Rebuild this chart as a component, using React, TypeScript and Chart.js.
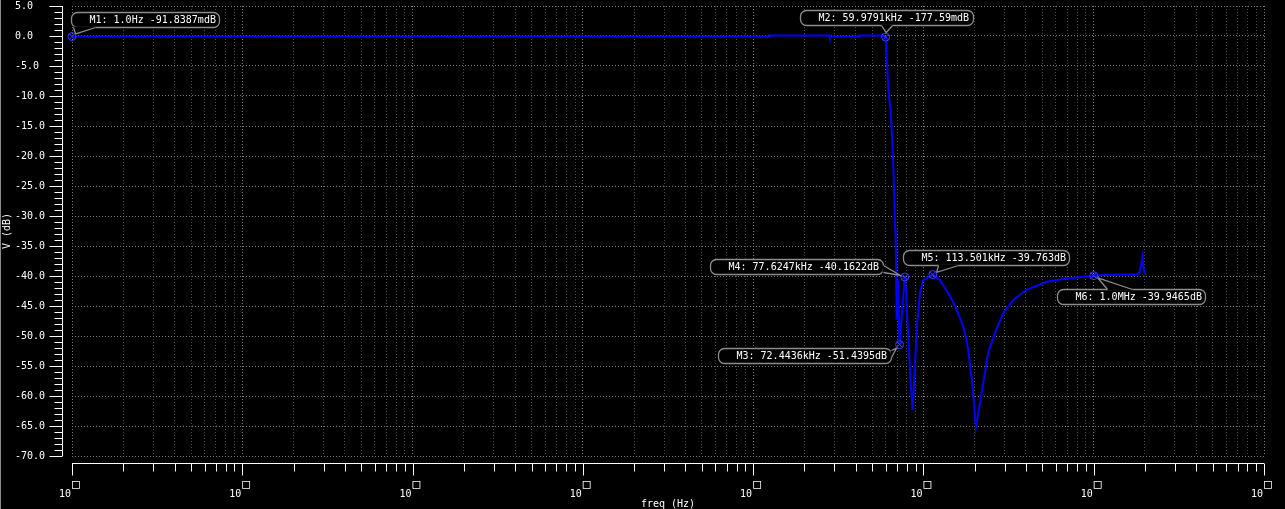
import React, { useEffect, useRef } from "react";
import { Chart, registerables } from "chart.js";

Chart.register(...registerables);

// ---------- data ----------
const freqHz = [
  1, 12500, 12560, 28000, 28100, 42000, 42300, 57500, 59979,
  60800, 62100, 64200, 65100, 65900, 66500, 67400, 68300, 68700,
  69660, 70900, 72444, 77625, 78900, 81100, 83900, 86400, 91600,
  95400, 99800, 113501, 125000, 139300, 148000, 156700, 164000, 171300, 177500, 183300, 194500,
  203400, 219700, 240200, 263000, 294100, 336800, 403600, 529000, 693000,
  1000000, 1190000, 1425000, 1786000, 1850000, 1911000, 1937000, 1959000,
  1985000, 2000000,
];
const gainDb = [
  -0.092, -0.09, 0.08, 0.08, -0.09, -0.09, 0.08, 0.08, -0.178,
  -3.2, -8.7, -12.8, -15.7, -18.5, -21.5, -26.8, -32.3, -33.2,
  -47.3, -40.7, -51.44, -40.16, -42.3, -49.0, -57.3, -62.3, -48.5,
  -42.8, -40.7, -39.76, -40.7, -42.8, -44.1, -45.7, -47.0, -48.5, -50.2, -52.3, -58.5,
  -65.2, -59.5, -52.8, -49.5, -46.2, -44.0, -42.3, -40.95, -40.4,
  -39.95, -39.8, -39.75, -39.7, -39.55, -37.7, -36.8, -38.7,
  -39.5, -39.6,
];

const yMin = -70;
const yMax = 5;
const yStep = 5;
const decadeExponents = [0, 1, 2, 3, 4, 5, 6, 7];

const markerFreqHz = [1, 59979.1, 72443.6, 77624.7, 113501, 1000000];
const markerDb = [-0.0918387, -0.17759, -51.4395, -40.1622, -39.763, -39.9465];
const markerText = [
  "M1: 1.0Hz -91.8387mdB",
  "M2: 59.9791kHz -177.59mdB",
  "M3: 72.4436kHz -51.4395dB",
  "M4: 77.6247kHz -40.1622dB",
  "M5: 113.501kHz -39.763dB",
  "M6: 1.0MHz -39.9465dB",
];

const xTitle = "freq (Hz)";
const yTitle = "V (dB)";

// ---------- styles / layout ----------
const FONT = '10px "DejaVu Sans Mono", monospace';
const markerLayout = [
  { dx: -1, dy: -24.5, edge: "bottom", t0: 2, t1: 24 },
  { dx: -86, dy: -27, edge: "bottom", t0: 81, t1: 92 },
  { dx: -182, dy: 3.5, edge: "right", t0: 2, t1: 9 },
  { dx: -195, dy: -18, edge: "right", t0: 6, t1: 13 },
  { dx: -30, dy: -25, edge: "bottom", t0: 35, t1: 55 },
  { dx: -37, dy: 13, edge: "top", t0: 50, t1: 75 },
];

const gridTicks: number[] = [];
for (let e = 0; e < 7; e++) {
  for (let m = 1; m <= 9; m++) gridTicks.push(m * Math.pow(10, e));
}
gridTicks.push(1e7);

const isDecade = (v: number) =>
  v > 0 && Math.abs(Math.log10(v) - Math.round(Math.log10(v))) < 1e-9;

function roundRectPath(ctx: CanvasRenderingContext2D, x: number, y: number, w: number, h: number, r: number) {
  ctx.beginPath();
  ctx.moveTo(x + r, y);
  ctx.lineTo(x + w - r, y);
  ctx.arcTo(x + w, y, x + w, y + r, r);
  ctx.lineTo(x + w, y + h - r);
  ctx.arcTo(x + w, y + h, x + w - r, y + h, r);
  ctx.lineTo(x + r, y + h);
  ctx.arcTo(x, y + h, x, y + h - r, r);
  ctx.lineTo(x, y + r);
  ctx.arcTo(x, y, x + r, y, r);
  ctx.closePath();
}

const overlayPlugin = {
  id: "overlay",
  beforeDraw(chart: any) {
    const { ctx, width, height } = chart;
    ctx.save();
    ctx.fillStyle = "#000";
    ctx.fillRect(0, 0, width, height);
    ctx.restore();
  },
  afterDraw(chart: any) {
    const { ctx, chartArea: ca, height } = chart;
    const xs = chart.scales.x;
    const ys = chart.scales.y;
    ctx.save();

    // window edge
    ctx.strokeStyle = "#8a8a8a";
    ctx.lineWidth = 1;
    ctx.beginPath();
    ctx.moveTo(0.5, 0);
    ctx.lineTo(0.5, height);
    ctx.stroke();

    ctx.strokeStyle = "#ffffff";
    ctx.fillStyle = "#ffffff";

    // y axis
    const axX = Math.round(ca.left - 9) - 0.5;
    ctx.beginPath();
    ctx.moveTo(axX, ys.getPixelForValue(yMax));
    ctx.lineTo(axX, ys.getPixelForValue(yMin));
    for (let v = yMin; v <= yMax; v++) {
      const py = Math.round(ys.getPixelForValue(v)) + 0.5;
      const len = v % yStep === 0 ? 13 : 8;
      ctx.moveTo(axX - len, py);
      ctx.lineTo(axX, py);
    }
    ctx.stroke();

    // x axis
    const axY = Math.round(ca.bottom + 7) + 0.5;
    ctx.beginPath();
    ctx.moveTo(xs.getPixelForValue(1), axY);
    ctx.lineTo(xs.getPixelForValue(1e7), axY);
    for (const t of gridTicks) {
      const px = Math.round(xs.getPixelForValue(t)) + 0.5;
      const len = isDecade(t) ? 12 : 8;
      ctx.moveTo(px, axY);
      ctx.lineTo(px, axY + len);
    }
    ctx.stroke();

    // x tick labels
    for (const e of decadeExponents) {
      const px = xs.getPixelForValue(Math.pow(10, e));
      ctx.font = FONT;
      ctx.textAlign = "right";
      ctx.textBaseline = "alphabetic";
      ctx.fillText("10", px - 1, 497);
      ctx.font = '13px "DejaVu Sans Mono", monospace';
      ctx.textAlign = "left";
      ctx.fillText("\u25A1", px, 488);
    }

    // axis titles
    ctx.font = FONT;
    ctx.textAlign = "center";
    ctx.textBaseline = "middle";
    ctx.fillText(xTitle, (ca.left + ca.right) / 2, 504);
    ctx.save();
    ctx.translate(7, (ca.top + ca.bottom) / 2);
    ctx.rotate(-Math.PI / 2);
    ctx.fillText(yTitle, 0, 0);
    ctx.restore();

    // markers
    for (let i = 0; i < markerFreqHz.length; i++) {
      const mx = xs.getPixelForValue(markerFreqHz[i]);
      const my = ys.getPixelForValue(markerDb[i]);
      const L = markerLayout[i];
      ctx.font = FONT;
      const tw = ctx.measureText(markerText[i]).width;
      const bw = Math.round(tw + 22);
      const bh = 15;
      const bx = Math.round(mx + L.dx) + 0.5;
      const by = Math.round(my + L.dy) + 0.5;
      let b0: number[], b1: number[];
      if (L.edge === "bottom") { b0 = [bx + L.t0, by + bh]; b1 = [bx + L.t1, by + bh]; }
      else if (L.edge === "top") { b0 = [bx + L.t0, by]; b1 = [bx + L.t1, by]; }
      else { b0 = [bx + bw, by + L.t0]; b1 = [bx + bw, by + L.t1]; }
      const cx = (b0[0] + b1[0]) / 2;
      const cy = (b0[1] + b1[1]) / 2;
      const dxv = cx - mx, dyv = cy - my;
      const dl = Math.hypot(dxv, dyv) || 1;
      const tip = [mx + (dxv / dl) * 4.5, my + (dyv / dl) * 4.5];

      roundRectPath(ctx, bx, by, bw, bh, 6);
      ctx.fillStyle = "#000";
      ctx.fill();
      ctx.strokeStyle = "#8c8c8c";
      ctx.lineWidth = 1.3;
      ctx.stroke();

      ctx.beginPath();
      ctx.moveTo(b0[0], b0[1]);
      ctx.lineTo(tip[0], tip[1]);
      ctx.lineTo(b1[0], b1[1]);
      ctx.closePath();
      ctx.fillStyle = "#000";
      ctx.fill();
      ctx.strokeStyle = "#000";
      ctx.lineWidth = 2;
      ctx.beginPath();
      ctx.moveTo(b0[0], b0[1]);
      ctx.lineTo(b1[0], b1[1]);
      ctx.stroke();
      ctx.strokeStyle = "#8c8c8c";
      ctx.lineWidth = 1.3;
      ctx.beginPath();
      ctx.moveTo(b0[0], b0[1]);
      ctx.lineTo(tip[0], tip[1]);
      ctx.lineTo(b1[0], b1[1]);
      ctx.stroke();

      ctx.fillStyle = "#ffffff";
      ctx.textAlign = "left";
      ctx.textBaseline = "middle";
      ctx.fillText(markerText[i], bx + 18, by + bh / 2 + 0.5);

      ctx.strokeStyle = "#3a3aff";
      ctx.lineWidth = 1;
      ctx.beginPath();
      ctx.arc(mx, my, 4, 0, Math.PI * 2);
      const d = 2.8;
      ctx.moveTo(mx - d, my - d);
      ctx.lineTo(mx + d, my + d);
      ctx.moveTo(mx + d, my - d);
      ctx.lineTo(mx - d, my + d);
      ctx.stroke();
    }

    ctx.restore();
  },
};

export default function App() {
  const ref = useRef<HTMLCanvasElement | null>(null);

  useEffect(() => {
    document.body.style.margin = "0";
    document.body.style.background = "#000";
    const canvas = ref.current;
    if (!canvas) return;
    const points = freqHz.map((f, i) => ({ x: f, y: gainDb[i] }));
    const chart = new Chart(canvas, {
      type: "line",
      data: {
        datasets: [
          {
            data: points,
            borderColor: "#0000ff",
            borderWidth: 2,
            pointRadius: 0,
            tension: 0,
            fill: false,
          },
        ],
      },
      options: {
        animation: false,
        responsive: false,
        devicePixelRatio: 1,
        events: [],
        layout: { padding: { left: 15, right: 21, top: 6, bottom: 0 } },
        plugins: { legend: { display: false }, tooltip: { enabled: false } },
        scales: {
          x: {
            type: "logarithmic",
            min: 1,
            max: 1e7,
            afterBuildTicks: (scale: any) => {
              scale.ticks = gridTicks.map((v) => ({ value: v }));
            },
            afterFit: (scale: any) => {
              scale.height = 53;
              scale.paddingLeft = 0;
              scale.paddingRight = 0;
              scale.paddingTop = 0;
              scale.paddingBottom = 0;
            },
            ticks: { display: false, autoSkip: false },
            border: { display: false, dash: [1, 2] },
            grid: {
              drawTicks: false,
              lineWidth: 1,
              color: (c: any) => (c.tick && isDecade(c.tick.value) ? "#7c7c7c" : "#4c4c4c"),
            },
          },
          y: {
            type: "linear",
            min: yMin,
            max: yMax,
            afterFit: (scale: any) => {
              scale.width = 57;
              scale.paddingTop = 0;
              scale.paddingBottom = 0;
              scale.paddingLeft = 0;
              scale.paddingRight = 0;
            },
            ticks: {
              stepSize: yStep,
              color: "#ffffff",
              crossAlign: "far",
              font: { family: '"DejaVu Sans Mono", monospace', size: 10 },
              callback: (v: any) => Number(v).toFixed(1),
            },
            border: { display: false, dash: [1, 2] },
            grid: { drawTicks: false, lineWidth: 1, color: "#7c7c7c" },
          },
        },
      },
      plugins: [overlayPlugin],
    });
    return () => chart.destroy();
  }, []);

  return (
    <div style={{ width: 1285, height: 509, background: "#000" }}>
      <canvas ref={ref} width={1285} height={509} style={{ display: "block", width: 1285, height: 509 }} />
    </div>
  );
}
